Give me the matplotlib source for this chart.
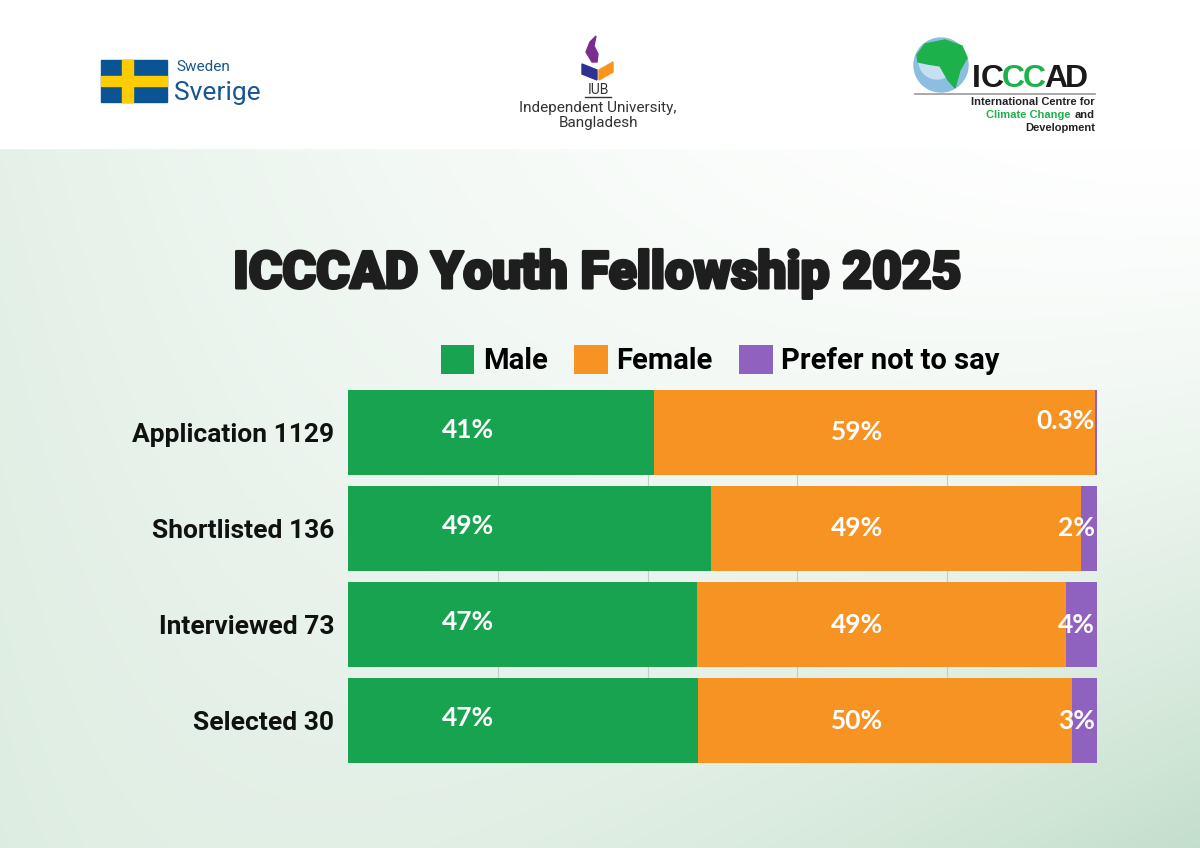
import numpy as np
import matplotlib.pyplot as plt
import matplotlib.patheffects as pe
from matplotlib.patches import Rectangle, Circle, Polygon

# Data (percent of each stage)
stages = ['Application 1129', 'Shortlisted 136', 'Interviewed 73', 'Selected 30']
groups = ['Male', 'Female', 'Prefer not to say']
male = [40.9, 48.5, 46.6, 46.7]
female = [58.8, 49.3, 49.3, 50.0]
prefer = [0.3, 2.2, 4.1, 3.3]
male_lbl = ['41%', '49%', '47%', '47%']
female_lbl = ['59%', '49%', '49%', '50%']
prefer_lbl = ['0.3%', '2%', '4%', '3%']

colors = ['#17A34F', '#F69322', '#8F62BF']
lab_font = ['Lato', 'DejaVu Sans']
cat_font = ['Roboto', 'DejaVu Sans']

W, H = 1200, 848
fig = plt.figure(figsize=(12, 8.48), dpi=100)

# ---- background + logos, in pixel coordinates
bg = fig.add_axes([0, 0, 1, 1])
bg.set_xlim(0, W)
bg.set_ylim(H, 0)
bg.axis('off')

xx, yy = np.meshgrid(np.linspace(0, 1, 300), np.linspace(0, 1, 200))
w = 0.42 * (1 - xx) ** 2 + 0.85 * (xx * yy) ** 1.5 + 0.12 * yy
w = np.clip(w, 0, 1)
mint = np.array([0.76, 0.87, 0.79])
img = 1 - w[..., None] * (1 - mint)
img = img * 0.985 + 0.015 * mint
bg.imshow(img, extent=[0, W, H, 148], aspect='auto', zorder=0)
bg.add_patch(Rectangle((0, 0), W, 148, color='white', zorder=1))

# Sweden logo
bg.add_patch(Rectangle((101, 60), 66, 42, color='#0A5494', zorder=2))
bg.add_patch(Rectangle((122, 60), 11, 42, color='#FECC02', zorder=3))
bg.add_patch(Rectangle((101, 76), 66, 10, color='#FECC02', zorder=3))
bg.text(176, 67, 'Sweden', fontsize=11, color='#17568F', va='center',
        family='Roboto', zorder=3)
bg.text(174, 93, 'Sverige', fontsize=19, color='#17568F', va='center',
        family='Roboto', zorder=3)

# IUB logo
bg.add_patch(Polygon([[592, 62], [586, 52], [590, 42], [596, 36], [594, 46],
                      [598, 54], [597, 62]], color='#7B2D8E', zorder=3))
bg.add_patch(Polygon([[582, 64], [597, 70], [597, 80], [582, 74]],
                     color='#2E3192', zorder=3))
bg.add_patch(Polygon([[599, 70], [613, 62], [613, 72], [599, 80]],
                     color='#F7941D', zorder=3))
bg.text(598, 90, 'IUB', fontsize=10, color='#333333', ha='center', va='center',
        family='Roboto', zorder=3)
bg.plot([585, 611], [97, 97], color='#333333', lw=1, zorder=3)
bg.text(598, 108, 'Independent University,', fontsize=11, color='#333333',
        ha='center', va='center', family='Roboto', zorder=3)
bg.text(598, 123, 'Bangladesh', fontsize=11, color='#333333',
        ha='center', va='center', family='Roboto', zorder=3)

# ICCCAD logo
bg.add_patch(Circle((941, 65), 27, color='#8CBEE0', zorder=2))
bg.add_patch(Circle((937, 61), 18, color='#C6E0F1', zorder=2))
bg.add_patch(Polygon([[917, 55], [925, 44], [945, 40], [962, 46], [967, 58],
                      [960, 70], [955, 88], [948, 80], [940, 66], [928, 64],
                      [918, 62]], color='#1DB14B', zorder=3))
xpos = 972
for ch, col in zip('ICCCAD', ['#1A1A1A', '#1A1A1A', '#1DB14B', '#1DB14B',
                             '#1A1A1A', '#1A1A1A']):
    bg.text(xpos, 79, ch, fontsize=23, weight='bold', color=col,
            va='center', family='Liberation Sans', zorder=3)
    xpos += {'I': 9, 'C': 21, 'A': 21, 'D': 21}[ch]
bg.plot([915, 1095], [94, 94], color='#9A9A9A', lw=1.2, zorder=3)
bg.text(1095, 102, 'International Centre for', fontsize=8, weight='bold',
        color='#222222', ha='right', va='center', family='Liberation Sans', zorder=3)
bg.text(1095, 115, 'and', fontsize=8, weight='bold',
        color='#222222', ha='right', va='center', family='Liberation Sans', zorder=3)
bg.text(1071, 115, 'Climate Change', fontsize=8, weight='bold',
        color='#1DB14B', ha='right', va='center', family='Liberation Sans', zorder=3)
bg.text(1095, 128, 'Development', fontsize=8, weight='bold',
        color='#222222', ha='right', va='center', family='Liberation Sans', zorder=3)

# Title
bg.text(597, 274, 'ICCCAD Youth Fellowship 2025', fontsize=37, weight='black',
        color='#1E1E1E', ha='center', va='center', family='Roboto', zorder=3,
        path_effects=[pe.withStroke(linewidth=2.2, foreground='#1E1E1E')])

# ---- bar chart
ax = fig.add_axes([348 / W, 1 - 763 / H, 749 / W, 373 / H])
ax.patch.set_alpha(0)
y = np.arange(len(stages))
h = 0.885
left = np.zeros(len(stages))
for vals, name, col in zip([male, female, prefer], groups, colors):
    ax.barh(y, vals, height=h, left=left, color=col, label=name, zorder=3)
    left = left + np.array(vals)

for i in range(len(stages)):
    ax.text(16, y[i] - 0.03, male_lbl[i], color='white', fontsize=19,
            weight='bold', ha='center', va='center', family=lab_font, zorder=4)
    ax.text(68, y[i], female_lbl[i], color='white', fontsize=19, weight='bold',
            ha='center', va='center', family=lab_font, zorder=4)
    ax.text(99.7, y[i] - (0.12 if i == 0 else 0), prefer_lbl[i], color='white',
            fontsize=19, weight='bold', ha='right', va='center',
            family=lab_font, zorder=4)

ax.set_xlim(0, 100)
ax.set_ylim(len(stages) - 1 + h / 2, -h / 2)
ax.set_xticks([20, 40, 60, 80])
ax.grid(axis='x', color='#C9C9C9', lw=0.8, zorder=0)
ax.tick_params(axis='x', length=0, labelbottom=False)
ax.tick_params(axis='y', length=0, pad=10)
ax.set_yticks(y)
ax.set_yticklabels(stages, fontsize=19, weight='bold', family=cat_font,
                   color='#111111')
for s in ax.spines.values():
    s.set_visible(False)

ax.legend(loc='lower center', bbox_to_anchor=(0.497, 1.008), ncol=3,
          frameon=False, handlelength=1.15, handleheight=1.15,
          handletextpad=0.3, columnspacing=0.9, borderaxespad=0,
          prop={'family': cat_font, 'weight': 'bold', 'size': 21})

fig.savefig('out.png', dpi=100)
